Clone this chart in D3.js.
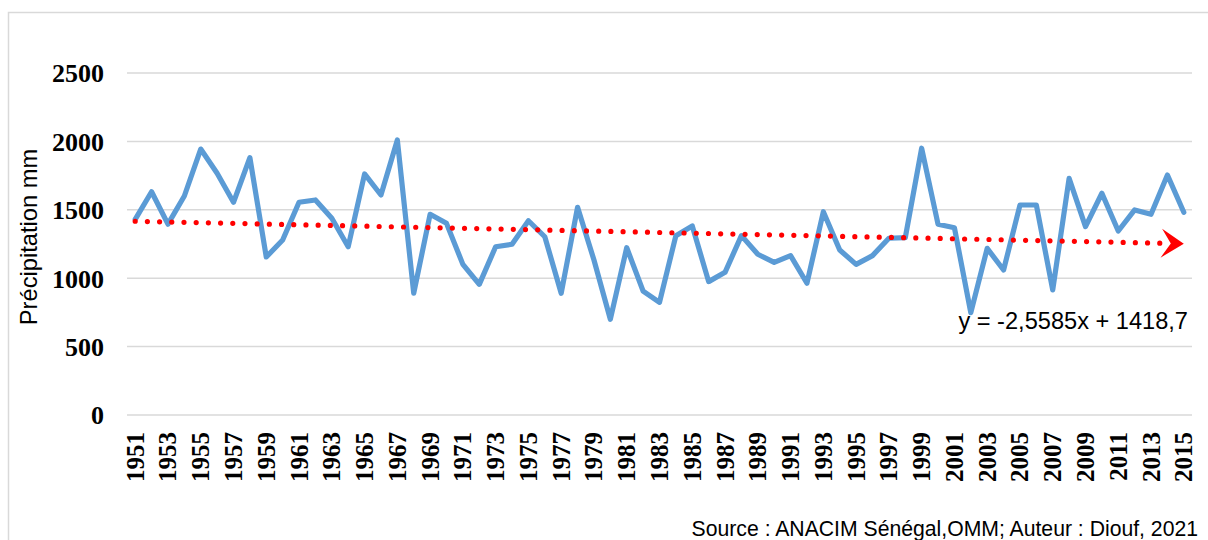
<!DOCTYPE html>
<html><head><meta charset="utf-8">
<script src="https://cdn.jsdelivr.net/npm/d3@7"></script>
<style>
html,body{margin:0;padding:0;background:#fff;}
svg{display:block;}
</style></head>
<body>
<svg id="chart" width="1208" height="540"></svg>
<script>
const years = d3.range(1951, 2016).map(String);
const precip = [1430,1632,1395,1601,1944,1767,1555,1881,1155,1279,1555,1572,1438,1230,1762,1608,2010,890,
  1467,1401,1101,955,1230,1248,1420,1303,890,1518,1133,700,1223,906,824,1311,1382,975,1043,1311,1175,1116,1165,963,
  1486,1206,1101,1165,1292,1296,1950,1394,1369,748,1218,1060,1535,1535,914,1730,1377,1621,1345,1499,1467,1754,1482];
const yTicks = [0,500,1000,1500,2000,2500];
const xTickLabels = years.filter((d,i)=>i%2===0);
const trendSlope = -2.5585, trendIntercept = 1418.7;
const trendLabel = "y = -2,5585x + 1418,7";
const yTitle = "Précipitation mm";
const sourceText = "Source : ANACIM Sénégal,OMM; Auteur : Diouf, 2021";

const svg = d3.select("#chart");
// outer frame
svg.append("rect").attr("x",8.5).attr("y",12.5).attr("width",1220).attr("height",560)
  .attr("fill","none").attr("stroke","#d9d9d9").attr("stroke-width",1.5);

const x = d3.scaleBand().domain(years).range([127,1192]).padding(0);
const y = d3.scaleLinear().domain([0,2500]).range([415,73]);
const cx = d => x(d) + x.bandwidth()/2;

// gridlines
svg.append("g").selectAll("line").data(yTicks).join("line")
  .attr("x1",127).attr("x2",1192).attr("y1",d=>y(d)).attr("y2",d=>y(d))
  .attr("stroke","#d9d9d9").attr("stroke-width",1.5);

// y axis labels
const yAxis = d3.axisLeft(y).tickValues(yTicks).tickSize(0).tickPadding(0).tickFormat(d3.format("d"));
const gy = svg.append("g").attr("transform","translate(104,0)").call(yAxis);
gy.select(".domain").remove();
gy.selectAll("text").attr("font-family","'Liberation Serif', 'Times New Roman', serif")
  .attr("font-weight","bold").attr("font-size",26).attr("fill","#000").attr("dy","0.34em");

// x axis labels
const xAxis = d3.axisBottom(x).tickValues(xTickLabels).tickSize(0).tickPadding(0);
const gx = svg.append("g").attr("transform","translate(0,432)").call(xAxis);
gx.select(".domain").remove();
gx.selectAll("text").attr("font-family","'Liberation Serif', 'Times New Roman', serif")
  .attr("font-weight","bold").attr("font-size",25).attr("fill","#000")
  .attr("transform","rotate(-90)").attr("text-anchor","end").attr("x",0).attr("y",0).attr("dy","0.34em")
  .attr("dx",0);

// data line
const line = d3.line().x((d,i)=>cx(years[i])).y(d=>y(d));
svg.append("path").datum(precip).attr("d",line).attr("fill","none")
  .attr("stroke","#5b9bd5").attr("stroke-width",5.2).attr("stroke-linejoin","round").attr("stroke-linecap","round");

// trend line
const tv = i => trendSlope*(i+1) + trendIntercept;
const x0 = cx(years[0]), y0 = y(tv(0));
const xe = cx(years[years.length-1]), ye = y(tv(years.length-1));
const ang = Math.atan2(ye-y0, xe-x0);
const pt = (back, side) => [xe - back*Math.cos(ang) - side*Math.sin(ang), ye - back*Math.sin(ang) + side*Math.cos(ang)];
const notch = pt(13,0);
svg.append("line").attr("x1",x0).attr("y1",y0).attr("x2",notch[0]).attr("y2",notch[1])
  .attr("stroke","#ff0000").attr("stroke-width",5.2).attr("stroke-linecap","round").attr("stroke-dasharray","0 12.2");
const arrow = [pt(0,0), pt(22,-14.5), notch, pt(23,14.5)];
svg.append("polygon").attr("points",arrow.map(p=>p.join(",")).join(" ")).attr("fill","#ff0000");

// trend label
svg.append("text").attr("x",1188).attr("y",329).attr("text-anchor","end")
  .attr("font-family","'Liberation Sans', Arial, sans-serif").attr("font-size",23.6).attr("fill","#000").text(trendLabel);

// y title
svg.append("text").attr("transform","translate(37,237) rotate(-90)").attr("text-anchor","middle")
  .attr("font-family","'Liberation Sans', Arial, sans-serif").attr("font-size",23.7).attr("fill","#000").text(yTitle);

// source
svg.append("text").attr("x",1198).attr("y",536).attr("text-anchor","end")
  .attr("font-family","'Liberation Sans', Arial, sans-serif").attr("font-size",21.2).attr("fill","#000").text(sourceText);
</script>
</body></html>
